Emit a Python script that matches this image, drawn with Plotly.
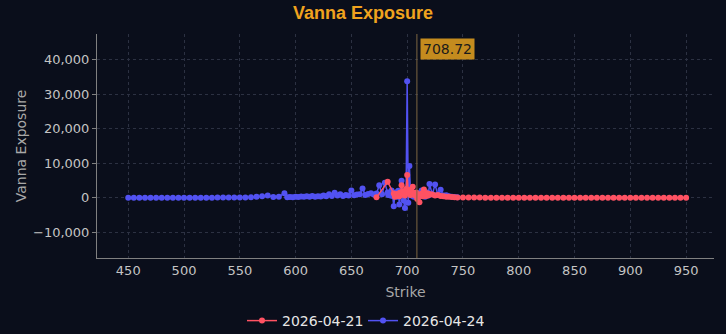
import plotly.graph_objects as go

# ---------------- data ----------------
# 2026-04-21 expiry (red)
strikes_0421 = ([672.5, 682.5]
                + list(range(688, 721))
                + [722.5 + 2.5 * i for i in range(10)]
                + list(range(750, 951, 5)))
vanna_0421 = ([100, 4600]
              + [1200, 300, 800, 500, 1200, 400, 1500, 3600, 900, 1800, 600, 2500,
                 6600, 1500, 2200, 800, 1800, 3200, 1200, 600, 1500, -400, 800, -1300,
                 600, 1200, 400, 2400, 900, 500, 1300, 700, 1100]
              + [900, 600, 800, 500, 400, 300, 250, 200, 100, 50]
              + [40, 30, 25, 20, 15, 12, 10, 8, 6, 5, 4, 4, 3, 3, 3, 2, 2, 2, 2, 1,
                 1, 1, 1, 1, 1, 1, 0, 0, 0, 0, 0, 0, 0, 0, 0, 0, 0, 0, 0, 0, 0])

# 2026-04-24 expiry (blue)
strikes_0424 = (list(range(450, 586, 5))
                + [590 + 2.5 * i for i in range(38)]
                + list(range(683, 721))
                + [722.5 + 2.5 * i for i in range(10)])
vanna_0424 = ([2, 2, 3, 3, 4, 4, 5, 6, 7, 8, 9, 10, 12, 14, 16, 18, 22, 26, 30, 40,
               50, 80, 150, 250, 400, 650, 200, 300]
              + [1300, 100, 200, 150, 300, 200, 350, 250, 400, 300, 500, 300, 450, 350,
                 600, 400, 1000, 500, 1400, 600, 1000, 500, 800, 600, 2100, 700, 900,
                 1000, 2700, 800, 1100, 1300, 900, 1200, 3600, 1000, 4300, 1500]
              + [800, 1200, 600, 2100, 500, -2500, 1000, 1500, 300, 2000, -2000, 800,
                 4900, 600, -800, -3000, 1500, 33800, -1500, 9200, 1200, 600, 1500, 300,
                 900, 200, 700, 1300, 400, 900, 2100, 500, 1200, 300, 800, 1500, 600, 4000]
              + [1000, 3800, 900, 2300, 600, 700, 400, 300, 200, 150])

spot_price = 708.72
x_ticks = [450, 500, 550, 600, 650, 700, 750, 800, 850, 900, 950]

# ---------------- style ----------------
BG = "#0a0e1b"
RED = "#ff5263"
BLUE = "#5252f2"
GRID = "#2c3142"
AXIS = "#808080"
FONT = "DejaVu Sans"

fig = go.Figure()
fig.add_trace(go.Scatter(x=strikes_0424, y=vanna_0424, mode="lines+markers",
                         name="2026-04-24", line=dict(color=BLUE, width=1.5),
                         marker=dict(color=BLUE, size=6)))
fig.add_trace(go.Scatter(x=strikes_0421, y=vanna_0421, mode="lines+markers",
                         name="2026-04-21", line=dict(color=RED, width=1.5),
                         marker=dict(color=RED, size=6)))

fig.add_shape(type="line", x0=spot_price, x1=spot_price, xref="x", y0=0, y1=1,
              yref="paper", line=dict(color="#7d6742", width=1))
fig.add_annotation(text=f"{spot_price:.2f}", x=spot_price, xref="x", y=1, yref="paper",
                   xanchor="left", yanchor="top", xshift=3, yshift=-4, showarrow=False,
                   bgcolor="#c48b1e", borderpad=2,
                   font=dict(family=FONT, size=14, color="#1a1a1a"))

fig.update_layout(
    width=726, height=334,
    paper_bgcolor=BG, plot_bgcolor=BG,
    margin=dict(l=97, r=12, t=34, b=76, autoexpand=False),
    title=dict(text="<b>Vanna Exposure</b>", x=0.5, xanchor="center",
               y=1 - 13 / 334, yanchor="middle",
               font=dict(family="Liberation Sans", size=18, color="#f0a31e")),
    showlegend=True,
    legend=dict(orientation="h", xref="container", x=0.5, xanchor="center",
                yref="container", y=1 - 321 / 334, yanchor="middle",
                traceorder="reversed", font=dict(family=FONT, size=14, color="#e6e6e6"),
                bgcolor="rgba(0,0,0,0)", itemwidth=30,
                entrywidth=76, entrywidthmode="pixels"),
    xaxis=dict(range=[422, 975], tickvals=x_ticks, showgrid=True, gridcolor=GRID,
               griddash="3px,3px", gridwidth=1, zeroline=False, showline=True,
               linecolor=AXIS, linewidth=1, ticks="",
               tickfont=dict(family=FONT, size=13, color="#c4c4c4"),
               title=dict(text="Strike", standoff=10,
                          font=dict(family=FONT, size=14, color="#a8a8a8"))),
    yaxis=dict(range=[-17500, 47500], dtick=10000, tick0=0, tickformat=",",
               showgrid=True, gridcolor=GRID, griddash="3px,3px", gridwidth=1,
               zeroline=False, showline=True, linecolor=AXIS, linewidth=1,
               ticks="outside", ticklen=4, tickcolor=AXIS,
               tickfont=dict(family=FONT, size=13, color="#c4c4c4"),
               title=dict(text="Vanna Exposure", standoff=3,
                          font=dict(family=FONT, size=14, color="#a8a8a8"))),
)

fig.write_html("out.html")
